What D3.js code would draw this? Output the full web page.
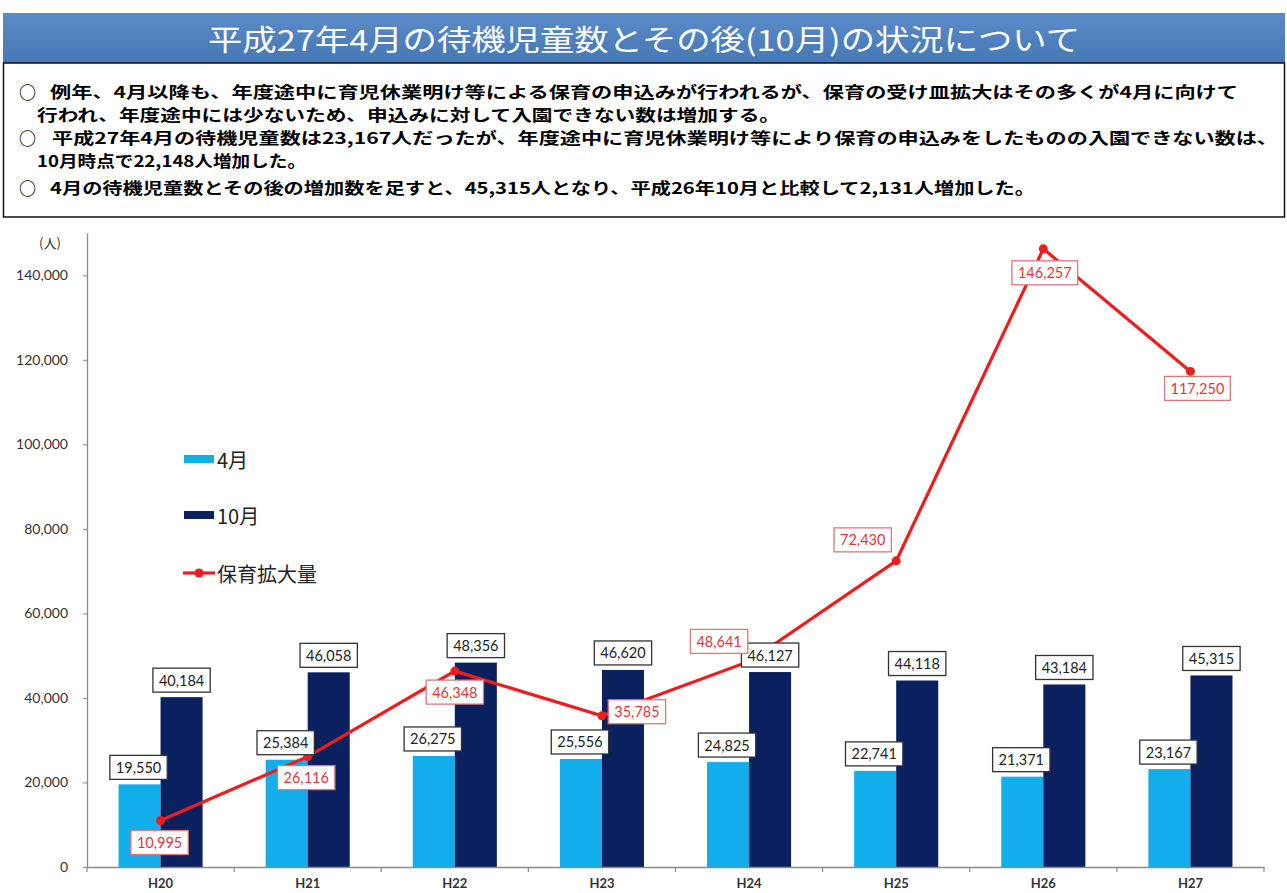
<!DOCTYPE html>
<html><head><meta charset="utf-8">
<script src="https://cdn.jsdelivr.net/npm/d3@7"></script>
<style>
html,body{margin:0;padding:0;background:#fff;}
svg{display:block;}
</style></head>
<body>
<script>
// ---- data ----
const categories = ["H20","H21","H22","H23","H24","H25","H26","H27"];
const april = [19550,25384,26275,25556,24825,22741,21371,23167];
const october = [40184,46058,48356,46620,46127,44118,43184,45315];
const expansion = [10995,26116,46348,35785,48641,72430,146257,117250];
const yTicks = [0,20000,40000,60000,80000,100000,120000,140000];
const seriesNames = ["4月","10月","保育拡大量"];
const titleText = "平成27年4月の待機児童数とその後(10月)の状況について";
const noteParagraphs = [
  ["例年、4月以降も、年度途中に育児休業明け等による保育の申込みが行われるが、保育の受け皿拡大はその多くが4月に向けて",
   "行われ、年度途中には少ないため、申込みに対して入園できない数は増加する。"],
  ["平成27年4月の待機児童数は23,167人だったが、年度途中に育児休業明け等により保育の申込みをしたものの入園できない数は、",
   "10月時点で22,148人増加した。"],
  ["4月の待機児童数とその後の増加数を足すと、45,315人となり、平成26年10月と比較して2,131人増加した。"]
];
const unitLabel = "(人)";

// ---- layout ----
const W = 1287, H = 893;
const JP = "'Noto Sans CJK JP','Noto Sans CJK SC',sans-serif";
const LAT = "Lato,'Open Sans',sans-serif";
const C_APR = "#12aeec", C_OCT = "#0b215f", C_RED = "#ee1c1c";
const noteLayout = [ // per paragraph: lines of [x, centerY, width]
  [[50, 90.5, 1188], [37, 113.5, 743]],
  [[52, 136.5, 1226], [37, 159.5, 269]],
  [[50, 187, 985]]
];
const lineLabelOffsets = [[-1,22],[-1.5,21],[0,21],[35,-4],[-30,-20],[-33.5,-21],[1.5,24],[7,17]];

const svg = d3.select("body").append("svg").attr("width", W).attr("height", H);

// header bar
const defs = svg.append("defs");
const g1 = defs.append("linearGradient").attr("id","hdr").attr("x1",0).attr("y1",0).attr("x2",0).attr("y2",1);
g1.append("stop").attr("offset","0%").attr("stop-color","#5b8cc8");
g1.append("stop").attr("offset","100%").attr("stop-color","#4677b6");
svg.append("rect").attr("x",3).attr("y",13).attr("width",1282).attr("height",50).attr("fill","url(#hdr)");
svg.append("text").attr("x",644).attr("y",38).attr("text-anchor","middle").attr("dominant-baseline","central")
  .attr("fill","#fff").attr("font-family",JP).attr("font-size",29).attr("font-weight",400)
  .attr("textLength",872).attr("lengthAdjust","spacingAndGlyphs").text(titleText);

// note box
svg.append("rect").attr("x",3.5).attr("y",63).attr("width",1281).attr("height",154)
  .attr("fill","#fff").attr("stroke","#111").attr("stroke-width",1.5);
noteParagraphs.forEach((lines,p)=>{
  const t = svg.append("text").attr("font-family",JP).attr("font-weight",700).attr("font-size",15.5)
    .attr("fill","#000").attr("dominant-baseline","central");
  lines.forEach((s,k)=>{
    const [x,cy,w] = noteLayout[p][k];
    if (k===0) t.append("tspan").attr("x",19).attr("y",cy).attr("font-size",17).text("○");
    t.append("tspan").attr("x",x).attr("y",cy).attr("textLength",w).attr("lengthAdjust","spacingAndGlyphs").text(s);
  });
});

// scales
const x0 = d3.scaleBand().domain(categories).range([87,1264]);
const x1 = d3.scaleBand().domain(["apr","oct"]).range([0,x0.bandwidth()]).paddingInner(0).paddingOuter(0.75);
const y = d3.scaleLinear().domain([0,150000]).range([867,233]);
const fmt = d3.format(",");

// y axis
const yAxisG = svg.append("g").attr("transform","translate(87,0)")
  .call(d3.axisLeft(y).tickValues(yTicks).tickSize(4).tickSizeOuter(0).tickFormat(fmt).tickPadding(15));
yAxisG.select(".domain").attr("stroke","#8a8a8a").attr("stroke-width",1.3);
yAxisG.selectAll(".tick line").attr("stroke","#8a8a8a");
yAxisG.selectAll(".tick text").attr("font-family",LAT).attr("font-size",14).attr("fill","#333");
svg.append("text").attr("x",50).attr("y",242).attr("text-anchor","middle").attr("dominant-baseline","central")
  .attr("font-family",JP).attr("font-size",13).attr("fill","#333").text(unitLabel);

// bars
const cat = svg.append("g");
const groups = cat.selectAll("g.cat").data(categories).join("g").attr("class","cat")
  .attr("transform",d=>`translate(${x0(d)},0)`);
groups.append("rect").attr("x",x1("apr")).attr("width",x1.bandwidth())
  .attr("y",(d,i)=>y(april[i])).attr("height",(d,i)=>y(0)-y(april[i])).attr("fill",C_APR);
groups.append("rect").attr("x",x1("oct")).attr("width",x1.bandwidth())
  .attr("y",(d,i)=>y(october[i])).attr("height",(d,i)=>y(0)-y(october[i])).attr("fill",C_OCT);

// x axis
const xAxisG = svg.append("g").attr("transform","translate(0,867)")
  .call(d3.axisBottom(x0).tickSize(0).tickPadding(12));
xAxisG.select(".domain").attr("stroke","#8a8a8a").attr("stroke-width",1.3);
xAxisG.selectAll(".tick text").attr("font-family",LAT).attr("font-weight",700).attr("font-size",13).attr("fill","#333");
const bounds = categories.map(c=>x0(c)).concat([x0(categories[categories.length-1])+x0.bandwidth()]);
xAxisG.selectAll("line.bt").data(bounds).join("line").attr("class","bt")
  .attr("x1",d=>d).attr("x2",d=>d).attr("y1",0).attr("y2",5).attr("stroke","#8a8a8a").attr("stroke-width",1.2);

// label helper
function boxLabel(parent, cx, cy, text, color, border){
  const g = parent.append("g");
  const t = g.append("text").attr("x",cx).attr("y",cy).attr("text-anchor","middle").attr("dominant-baseline","central")
    .attr("font-family",LAT).attr("font-size",14.5).attr("fill",color).text(text);
  const bb = t.node().getBBox();
  g.insert("rect","text").attr("x",cx-bb.width/2-6).attr("y",cy-12).attr("width",bb.width+12).attr("height",24)
    .attr("fill","#fff").attr("stroke",border).attr("stroke-width",1.3);
}

// line
const lineGen = d3.line().x((d,i)=>x0(categories[i])+x0.bandwidth()/2).y(d=>y(d));
svg.append("path").datum(expansion).attr("d",lineGen).attr("fill","none").attr("stroke",C_RED).attr("stroke-width",3.2);
svg.append("g").selectAll("circle").data(expansion).join("circle")
  .attr("cx",(d,i)=>x0(categories[i])+x0.bandwidth()/2).attr("cy",d=>y(d)).attr("r",4.5).attr("fill",C_RED);

// bar labels
const lab = svg.append("g");
categories.forEach((c,i)=>{
  boxLabel(lab, x0(c)+x1("apr")+x1.bandwidth()/2 - 1, y(april[i])-17, fmt(april[i]), "#222", "#333");
  boxLabel(lab, x0(c)+x1("oct")+x1.bandwidth()/2, y(october[i])-17, fmt(october[i]), "#222", "#333");
});
// line labels
categories.forEach((c,i)=>{
  const [dx,dy] = lineLabelOffsets[i];
  boxLabel(lab, x0(c)+x0.bandwidth()/2+dx, y(expansion[i])+dy, fmt(expansion[i]), "#d83a3a", "#d77a7a");
});

// legend
const leg = svg.append("g");
leg.append("rect").attr("x",184).attr("y",455).attr("width",30).attr("height",8).attr("fill",C_APR);
leg.append("rect").attr("x",184).attr("y",511).attr("width",30).attr("height",8).attr("fill",C_OCT);
leg.append("line").attr("x1",183).attr("x2",215).attr("y1",573).attr("y2",573).attr("stroke",C_RED).attr("stroke-width",3.2);
leg.append("circle").attr("cx",199).attr("cy",573).attr("r",4.5).attr("fill",C_RED);
[[459,seriesNames[0]],[515,seriesNames[1]],[573,seriesNames[2]]].forEach(([cy,t])=>{
  leg.append("text").attr("x",217).attr("y",cy).attr("dominant-baseline","central")
    .attr("font-family",JP).attr("font-size",20).attr("fill","#222").text(t);
});
</script>
</body></html>
